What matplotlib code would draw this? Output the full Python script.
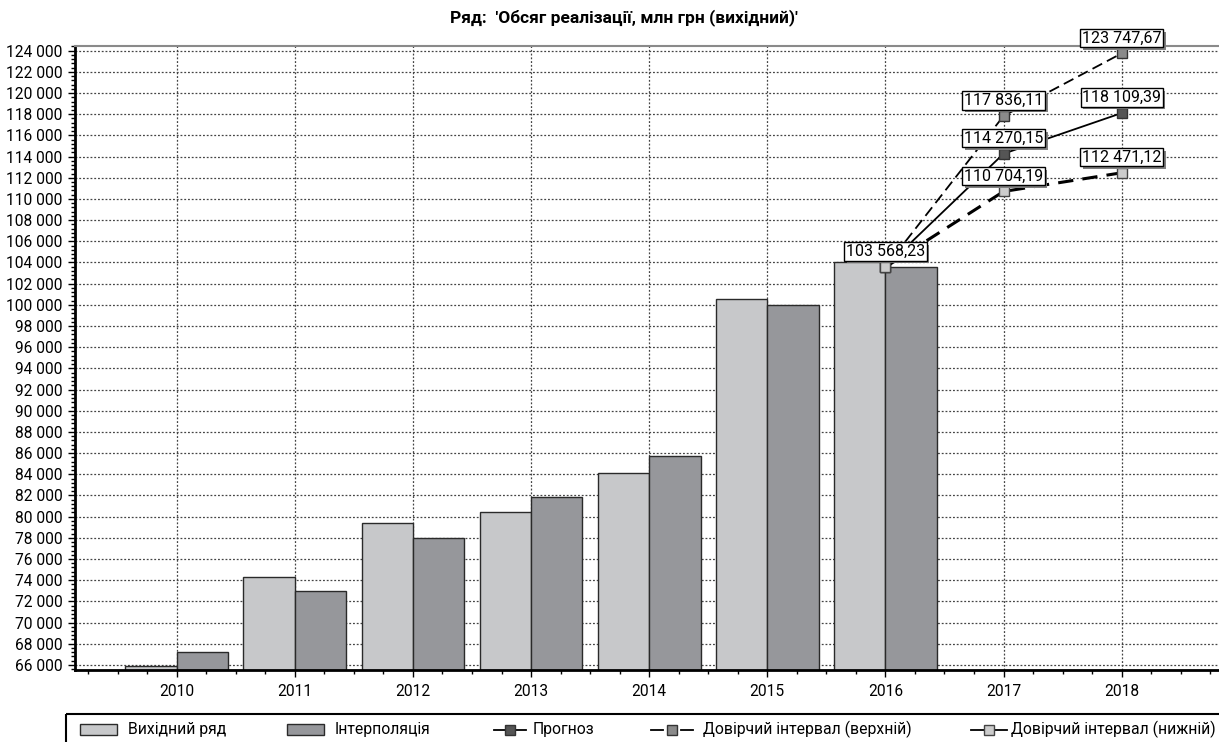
import matplotlib
matplotlib.use('Agg')
import matplotlib.pyplot as plt
import matplotlib.patheffects as pe
from matplotlib.patches import Rectangle
from matplotlib.lines import Line2D
from matplotlib.ticker import MultipleLocator, FixedLocator, FuncFormatter

plt.rcParams['font.family'] = ['Roboto', 'DejaVu Sans']

# ---------------- data ----------------
years = [2010, 2011, 2012, 2013, 2014, 2015, 2016, 2017, 2018]
hist_years = [2010, 2011, 2012, 2013, 2014, 2015, 2016]
original = [65900, 74300, 79400, 80400, 84100, 100550, 104000]
interpolation = [67200, 73000, 78000, 81900, 85700, 100000, 103568.23]
fc_years = [2016, 2017, 2018]
forecast = [103568.23, 114270.15, 118109.39]
upper = [103568.23, 117836.11, 123747.67]
lower = [103568.23, 110704.19, 112471.12]

title = "Ряд:  'Обсяг реалізації, млн грн (вихідний)'"
legend_labels = ["Вихідний ряд", "Інтерполяція", "Прогноз",
                 "Довірчий інтервал (верхній)", "Довірчий інтервал (нижній)"]

LIGHT = '#c7c8ca'
DARK = '#96979b'
EDGE = '#2a2a2a'

W, H = 1219, 742
fig = plt.figure(figsize=(W / 100, H / 100), dpi=100)
ax = fig.add_axes([75 / W, 1 - 670 / H, (W - 75) / W, (670 - 45.7) / H])

bw = 0.435
ax.bar(hist_years, original, width=-bw, align='edge', color=LIGHT,
       edgecolor=EDGE, linewidth=1, zorder=2)
ax.bar(hist_years, interpolation, width=bw, align='edge', color=DARK,
       edgecolor=EDGE, linewidth=1, zorder=2)

ax.plot(fc_years, forecast, color='black', lw=1.3, marker='s', ms=7,
        mfc='#555555', mec='#333333', mew=1, zorder=4)
ax.plot(fc_years, upper, color='black', lw=1.3, dashes=(6, 3), marker='s', ms=7,
        mfc='#8a8a8a', mec='#333333', mew=1, zorder=4)
ax.plot(fc_years, lower, color='black', lw=2.2, dashes=(5, 3), marker='s', ms=7,
        mfc='#cccccc', mec='#444444', mew=1, zorder=4)


def fmt_val(v):
    s = f"{v:,.2f}"
    return s.replace(',', ' ').replace('.', ',')


pts = [(fc_years[0], forecast[0])]
for seq in (forecast, upper, lower):
    for xx, yy in zip(fc_years[1:], seq[1:]):
        pts.append((xx, yy))
for xx, yy in pts:
    t = ax.annotate(fmt_val(yy), (xx, yy), xytext=(0, 8), textcoords='offset pixels',
                    ha='center', va='bottom', fontsize=11.5, zorder=6,
                    bbox=dict(boxstyle='square,pad=0.1', fc='white', ec='black', lw=1))
    t.get_bbox_patch().set_path_effects(
        [pe.SimplePatchShadow(offset=(2, -2), shadow_rgbFace='#808080', alpha=1), pe.Normal()])

ax.set_xlim(2009.139, 2018.824)
ax.set_ylim(65520, 124470)

ax.xaxis.set_major_locator(FixedLocator(years))
ax.xaxis.set_minor_locator(MultipleLocator(0.25))
ax.yaxis.set_major_locator(MultipleLocator(2000))
ax.yaxis.set_minor_locator(MultipleLocator(400))
ax.yaxis.set_major_formatter(FuncFormatter(lambda v, p: f"{int(round(v)):,}".replace(',', ' ')))
ax.xaxis.set_major_formatter(FuncFormatter(lambda v, p: f"{int(round(v))}"))

ax.tick_params(axis='both', which='major', direction='out', length=5, width=1,
               labelsize=11.2, colors='black')
ax.tick_params(axis='both', which='minor', direction='out', length=3, width=1)
ax.tick_params(axis='x', which='major', pad=5)
ax.tick_params(axis='y', which='major', pad=4)

ax.grid(True, which='major', linestyle=(0, (1.5, 1.5)), color='#444444', lw=0.9, zorder=0)
ax.set_axisbelow(True)

for s in ('left', 'bottom'):
    ax.spines[s].set_linewidth(2)
    ax.spines[s].set_color('black')
ax.spines['top'].set_linewidth(1.5)
ax.spines['top'].set_color('#8a8a8a')
ax.spines['right'].set_visible(False)

fig.text(624 / W, 1 - 18 / H, title, ha='center', va='center',
         fontsize=12.5, fontweight='bold')

# ---------------- legend ----------------
lax = fig.add_axes([0, 0, 1, 1], facecolor='none')
lax.set_xlim(0, W)
lax.set_ylim(H, 0)
lax.axis('off')
lax.add_patch(Rectangle((66, 714), 1200, 60, fill=False, ec='black', lw=1.5))
ly = 729.5
fs = 11.3
lax.add_patch(Rectangle((80, ly - 5.5), 37, 11, fc=LIGHT, ec=EDGE, lw=1))
lax.text(128, ly, legend_labels[0], va='center', ha='left', fontsize=fs)
lax.add_patch(Rectangle((287, ly - 5.5), 37, 11, fc=DARK, ec=EDGE, lw=1))
lax.text(335, ly, legend_labels[1], va='center', ha='left', fontsize=fs)

lax.add_line(Line2D([494, 526], [ly, ly], color='black', lw=1.3))
lax.add_line(Line2D([510], [ly], marker='s', ms=7, mfc='#555555', mec='#333333', mew=1))
lax.text(533, ly, legend_labels[2], va='center', ha='left', fontsize=fs)

lax.add_line(Line2D([651, 663], [ly, ly], color='black', lw=1.3))
lax.add_line(Line2D([681, 693], [ly, ly], color='black', lw=1.3))
lax.add_line(Line2D([672], [ly], marker='s', ms=7, mfc='#8a8a8a', mec='#333333', mew=1))
lax.text(703, ly, legend_labels[3], va='center', ha='left', fontsize=fs)

lax.add_line(Line2D([971, 1007], [ly, ly], color='black', lw=1.3))
lax.add_line(Line2D([989], [ly], marker='s', ms=7, mfc='#cccccc', mec='#444444', mew=1))
lax.text(1011, ly, legend_labels[4], va='center', ha='left', fontsize=fs)

fig.savefig('out.png', dpi=100)
